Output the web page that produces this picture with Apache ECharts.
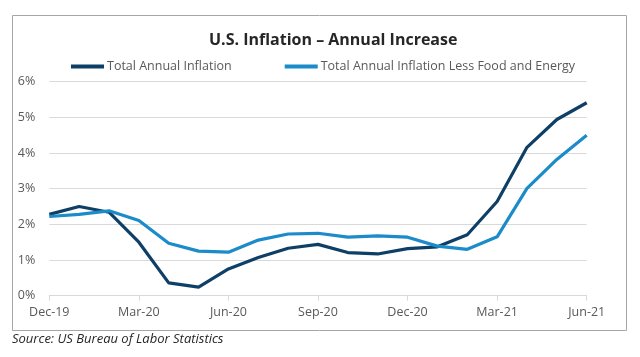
<!DOCTYPE html>
<html><head><meta charset="utf-8">
<script src="https://cdn.jsdelivr.net/npm/echarts@6/dist/echarts.min.js"></script>
<style>html,body{margin:0;padding:0;background:#fff}#c{width:640px;height:357px}</style>
</head><body><div id="c"></div>
<script>
const categories = ["Dec-19","Jan-20","Feb-20","Mar-20","Apr-20","May-20","Jun-20","Jul-20","Aug-20","Sep-20","Oct-20","Nov-20","Dec-20","Jan-21","Feb-21","Mar-21","Apr-21","May-21","Jun-21"];
const totalInflation = [2.28,2.50,2.34,1.50,0.36,0.24,0.75,1.07,1.33,1.44,1.21,1.17,1.32,1.37,1.71,2.64,4.16,4.94,5.41];
const coreInflation = [2.22,2.28,2.38,2.11,1.47,1.25,1.22,1.56,1.73,1.75,1.64,1.68,1.64,1.39,1.30,1.65,3.01,3.82,4.50];
const yTicks = [0,1,2,3,4,5,6];

const font = "Open Sans";
const chart = echarts.init(document.getElementById('c'));
chart.setOption({
  animation:false,
  title:{text:"U.S. Inflation \u2013 Annual Increase",left:204,top:27,
    textStyle:{fontFamily:font,fontSize:16,fontWeight:'bold',color:'#262626'}},
  legend:{top:55,left:66,itemGap:53,itemWidth:33,itemHeight:4,icon:'rect',
    textStyle:{fontFamily:font,fontSize:12.5,color:'#595959',padding:[0,0,0,-2]},
    data:["Total Annual Inflation","Total Annual Inflation Less Food and Energy"]},
  grid:{left:49.3,right:53.3,top:81.7,bottom:61.3},
  xAxis:{type:'category',data:categories,boundaryGap:false,
    axisLine:{lineStyle:{color:'#d9d9d9'}},
    axisTick:{show:true,interval:2,length:5,lineStyle:{color:'#d9d9d9'}},
    axisLabel:{interval:2,margin:10,fontFamily:font,fontSize:12.5,color:'#595959'}},
  yAxis:{type:'value',min:0,max:6,interval:1,
    axisLabel:{formatter:v=>v+'%',margin:14,fontFamily:font,fontSize:12.5,color:'#595959'},
    splitLine:{lineStyle:{color:'#d9d9d9'}},axisLine:{show:false},axisTick:{show:false}},
  graphic:[
    {type:'rect',shape:{x:12.5,y:15.5,width:614,height:315},style:{fill:'none',stroke:'#a6a6a6',lineWidth:1}},
    {type:'text',left:12,top:333,style:{text:'Source: US Bureau of Labor Statistics',font:'italic 13px "Open Sans"',fill:'#262626'}}
  ],
  series:[
    {name:"Total Annual Inflation",type:'line',data:totalInflation,symbol:'none',
      lineStyle:{width:3.2,color:'#0e3f66'},itemStyle:{color:'#0e3f66'}},
    {name:"Total Annual Inflation Less Food and Energy",type:'line',data:coreInflation,symbol:'none',
      lineStyle:{width:3.2,color:'#1b8bc9'},itemStyle:{color:'#1b8bc9'}}
  ]
});
</script></body></html>
